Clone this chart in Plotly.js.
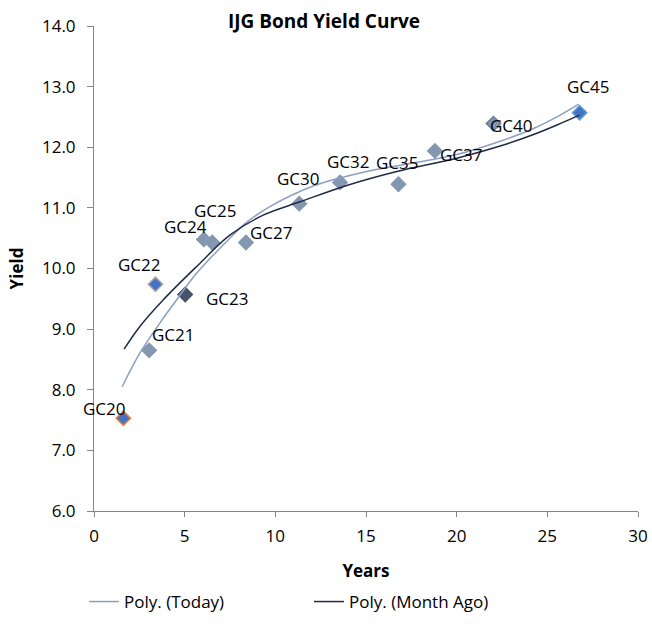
<!DOCTYPE html>
<html>
<head>
<meta charset="utf-8">
<script src="https://cdn.plot.ly/plotly-3.0.1.min.js"></script>
<style>html,body{margin:0;padding:0;background:#fff;}#chart{width:652px;height:628px;}</style>
</head>
<body>
<div id="chart"></div>
<script>
// ---- data ----
const bondNames  = ['GC20','GC21','GC22','GC23','GC24','GC25','GC27','GC30','GC32','GC35','GC37','GC40','GC45'];
const bondYears  = [1.62, 3.04, 3.39, 5.03, 6.06, 6.52, 8.38, 11.32, 13.57, 16.79, 18.80, 22.03, 26.78];
const bondYields = [7.53, 8.65, 9.74, 9.57, 10.48, 10.43, 10.43, 11.07, 11.42, 11.39, 11.94, 12.39, 12.57];

// trendline curves
const todayYears  = [1.55, 2.52, 3.63, 4.55, 5.65, 6.57, 7.49, 8.41, 9.70, 12.09, 15.04, 17.61, 20.0, 22.4, 24.24, 25.71, 26.73];
const todayYields = [8.05, 8.60, 9.10, 9.48, 9.92, 10.22, 10.50, 10.76, 11.02, 11.36, 11.60, 11.74, 11.88, 12.10, 12.31, 12.53, 12.71];
const monthYears  = [1.66, 2.52, 3.81, 5.65, 7.49, 9.33, 11.36, 13.94, 16.70, 20.01, 22.4, 24.24, 25.71, 26.77];
const monthYields = [8.67, 9.04, 9.48, 10.03, 10.55, 10.88, 11.10, 11.37, 11.60, 11.82, 12.02, 12.21, 12.39, 12.53];

const xTickVals = [0, 5, 10, 15, 20, 25, 30];
const yTickVals = [6, 7, 8, 9, 10, 11, 12, 13, 14];

// ---- styling (not data) ----
const markerFill = ['#4472C4','#8497B0','#4472C4','#44546A','#8497B0','#8497B0','#8497B0','#8497B0','#8497B0','#8497B0','#8497B0','#8497B0','#4472C4'];
const markerEdge = ['#ED7D31','#8497B0','#A5A5A5','#44546A','#8497B0','#8497B0','#8497B0','#8497B0','#8497B0','#8497B0','#8497B0','#6A7D99','#5B9BD5'];
// label offsets in pixels [dx, dy(up)]
const labelOffsets = [[-19,10],[24,16],[-16,20],[42,-4],[-18,13],[3,32],[26,10],[-1,25],[8,21],[-1,22],[27,-4],[18,-2],[9,26]];

const FONT = '"Open Sans", "Liberation Sans", sans-serif';
const FS = 17;

const traces = [
  {
    x: bondYears, y: bondYields, mode: 'markers', type: 'scatter', showlegend: false,
    marker: {symbol: 'diamond', size: 11, color: markerFill, line: {color: markerEdge, width: 1.5}},
    hoverinfo: 'skip'
  },
  {
    x: todayYears, y: todayYields, mode: 'lines', type: 'scatter', name: 'Poly. (Today)',
    line: {color: '#8A9FC2', width: 1.5, shape: 'spline', smoothing: 1}
  },
  {
    x: monthYears, y: monthYields, mode: 'lines', type: 'scatter', name: 'Poly. (Month Ago)',
    line: {color: '#1F2B45', width: 1.5, shape: 'spline', smoothing: 1}
  }
];

const annotations = bondNames.map((n, i) => ({
  x: bondYears[i], y: bondYields[i], xref: 'x', yref: 'y', text: n, showarrow: false,
  xshift: labelOffsets[i][0], yshift: labelOffsets[i][1],
  font: {family: FONT, size: FS, color: '#000'}
}));

const layout = {
  width: 652, height: 628,
  margin: {l: 94, r: 14, t: 26, b: 117},
  paper_bgcolor: '#fff', plot_bgcolor: '#fff',
  font: {family: FONT, size: FS, color: '#000'},
  title: {text: '<b>IJG Bond Yield Curve</b>', xref: 'container', x: 0.497, xanchor: 'center',
          yref: 'container', y: 1 - 21/628, yanchor: 'middle',
          font: {family: FONT, size: 19, color: '#000'}},
  xaxis: {
    range: [0, 30], tickvals: xTickVals, showgrid: false, zeroline: false,
    showline: true, linecolor: '#868686', linewidth: 1,
    ticks: 'outside', ticklen: 5, tickcolor: '#868686',
    tickfont: {family: FONT, size: FS, color: '#000'}, ticklabelstandoff: 5,
    title: {text: '<b>Years</b>', standoff: 18, font: {family: FONT, size: FS, color: '#000'}}
  },
  yaxis: {
    range: [6, 14], tickvals: yTickVals, tickformat: '.1f', showgrid: false, zeroline: false,
    showline: true, linecolor: '#868686', linewidth: 1,
    ticks: 'outside', ticklen: 6, tickcolor: '#868686',
    tickfont: {family: FONT, size: FS, color: '#000'}, ticklabelstandoff: 8,
    title: {text: '<b>Yield</b>', standoff: 14, font: {family: FONT, size: FS, color: '#000'}}
  },
  showlegend: true,
  legend: {
    orientation: 'h', xref: 'container', yref: 'container',
    x: 84/652, xanchor: 'left', y: 1 - 602/628, yanchor: 'middle',
    entrywidth: 180, entrywidthmode: 'pixels',
    font: {family: FONT, size: FS, color: '#000'}, bgcolor: 'rgba(0,0,0,0)'
  },
  annotations: annotations
};

Plotly.newPlot('chart', traces, layout, {displayModeBar: false, staticPlot: true});
</script>
</body>
</html>
